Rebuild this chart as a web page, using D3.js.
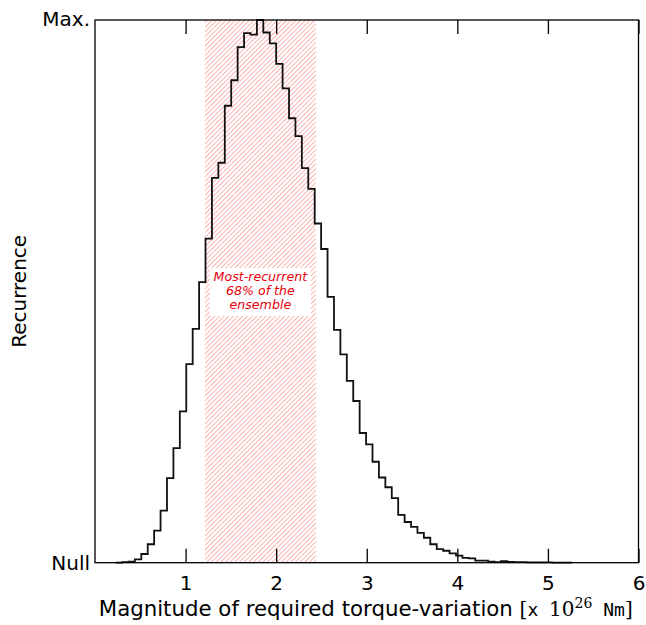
<!DOCTYPE html>
<html>
<head>
<meta charset="utf-8">
<script src="https://cdn.jsdelivr.net/npm/d3@7"></script>
<style>
  body { margin: 0; background: #fff; }
  text { font-family: "DejaVu Sans", sans-serif; }
</style>
</head>
<body>
<div id="chart"></div>
<script>
// Histogram of required torque-variation (ensemble), normalised so the peak bin = 1000
const binStart = 0.2275;   // left edge of the first bin
const binWidth = 0.0709;
const counts = [
    0, 1, 2, 6, 16, 34, 59, 96, 156, 211,
    279, 366, 431, 517, 597, 709, 737, 842, 889, 950,
    976, 973, 1000, 977, 957, 919, 874, 819, 786, 727,
    689, 625, 578, 490, 429, 384, 335, 298, 239, 218,
    186, 157, 139, 119, 88, 75, 66, 55, 46, 34,
    25, 22, 17, 13, 9, 8, 4, 4, 2, 1,
    3, 1.5, 1, 1, 0.5, 0.5, 0.5, 0.5, 0.3, 0.3, 0.2
];
const band = [1.213, 2.438];          // most-recurrent 68%
const xTicks = [1, 2, 3, 4, 5, 6];
const bandText = ['Most-recurrent', '68% of the', 'ensemble'];

const W = 646, H = 625;
const margin = { top: 20, right: 7.5, bottom: 62.3, left: 95 };
const width = W - margin.left - margin.right;
const height = H - margin.top - margin.bottom;

const svg = d3.select('#chart').append('svg')
    .attr('width', W)
    .attr('height', H);

const g = svg.append('g')
    .attr('transform', `translate(${margin.left},${margin.top})`);

const x = d3.scaleLinear().domain([0, 6]).range([0, width]);
const y = d3.scaleLinear().domain([0, d3.max(counts)]).range([height, 0]);

// hatch pattern for the 68% band
const defs = svg.append('defs');
const pat = defs.append('pattern')
    .attr('id', 'hatch')
    .attr('patternUnits', 'userSpaceOnUse')
    .attr('width', 3.3)
    .attr('height', 3.3)
    .attr('patternTransform', 'rotate(45)');
pat.append('line')
    .attr('x1', 0).attr('y1', 0)
    .attr('x2', 0).attr('y2', 3.3)
    .attr('stroke', '#ff8c8c')
    .attr('stroke-width', 1.3);

g.append('rect')
    .attr('x', x(band[0]))
    .attr('y', 0)
    .attr('width', x(band[1]) - x(band[0]))
    .attr('height', height)
    .attr('fill', 'url(#hatch)');

// step outline of the histogram
const pts = [[binStart, 0]];
counts.forEach((c, i) => {
    const x0 = binStart + i * binWidth;
    pts.push([x0, c], [x0 + binWidth, c]);
});
pts.push([binStart + counts.length * binWidth, 0]);

const line = d3.line()
    .x(d => x(d[0]))
    .y(d => y(d[1]));

g.append('path')
    .datum(pts)
    .attr('d', line)
    .attr('fill', 'none')
    .attr('stroke', '#111')
    .attr('stroke-width', 1.8)
    .attr('stroke-linejoin', 'miter');

// label box
const cx = x((band[0] + band[1]) / 2);
g.append('rect')
    .attr('x', x(band[0]) + 5)
    .attr('y', 248)
    .attr('width', x(band[1]) - x(band[0]) - 10)
    .attr('height', 48)
    .attr('fill', '#fff');

g.append('g').selectAll('text')
    .data(bandText)
    .enter()
    .append('text')
    .attr('x', cx)
    .attr('y', (d, i) => 261 + i * 14.2)
    .attr('text-anchor', 'middle')
    .style('font-size', '12.6px')
    .style('font-style', 'italic')
    .style('fill', '#e8000b')
    .text(d => d);

// frame
g.append('rect')
    .attr('width', width)
    .attr('height', height)
    .attr('fill', 'none')
    .attr('stroke', '#000')
    .attr('stroke-width', 1.3);

// inward ticks, bottom and top
const xAxis = g.append('g')
    .attr('transform', `translate(0,${height})`)
    .call(d3.axisBottom(x).tickValues(xTicks).tickFormat(d3.format('d'))
        .tickSizeInner(-14).tickSizeOuter(0).tickPadding(13));
xAxis.select('.domain').remove();
xAxis.selectAll('.tick line').attr('stroke-width', 1.3);
xAxis.selectAll('.tick text')
    .style('font-size', '20px')
    .style('font-family', '"DejaVu Sans", sans-serif')
    .attr('fill', '#000');

const xTop = g.append('g')
    .call(d3.axisTop(x).tickValues(xTicks).tickSizeInner(-14).tickSizeOuter(0).tickFormat(''));
xTop.select('.domain').remove();
xTop.selectAll('.tick line').attr('stroke-width', 1.3);

// y labels
g.append('text')
    .attr('x', -5)
    .attr('y', 6)
    .attr('text-anchor', 'end')
    .style('font-size', '20px')
    .text('Max.');

g.append('text')
    .attr('x', -5)
    .attr('y', height + 7)
    .attr('text-anchor', 'end')
    .style('font-size', '20px')
    .text('Null');

svg.append('text')
    .attr('transform', `translate(26,${margin.top + height / 2}) rotate(-90)`)
    .attr('text-anchor', 'middle')
    .style('font-size', '20px')
    .text('Recurrence');

// x axis title
const xl = svg.append('text')
    .attr('x', margin.left + width / 2 - 1)
    .attr('y', 616)
    .attr('text-anchor', 'middle')
    .style('font-size', '21.3px');
xl.append('tspan').text('Magnitude of required torque-variation ');
xl.append('tspan').style('font-family', '"DejaVu Serif", serif').style('font-size', '20px').text('[');
xl.append('tspan').style('font-family', '"DejaVu Sans Mono", monospace').style('font-size', '18px').text('x ');
xl.append('tspan').style('font-family', '"DejaVu Serif", serif').style('font-size', '20px').text('10');
xl.append('tspan').style('font-family', '"DejaVu Serif", serif').style('font-size', '14px').attr('dy', -8).text('26');
xl.append('tspan').style('font-family', '"DejaVu Sans Mono", monospace').style('font-size', '18px').attr('dy', 8).text(' Nm');
xl.append('tspan').style('font-family', '"DejaVu Serif", serif').style('font-size', '20px').text(']');
</script>
</body>
</html>
